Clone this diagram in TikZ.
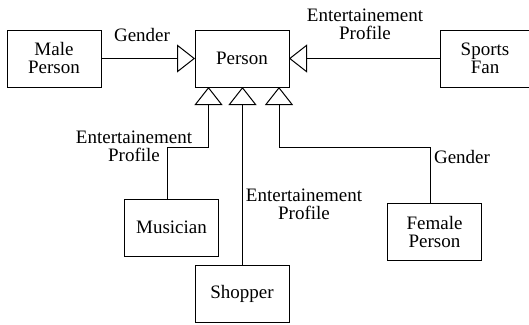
\documentclass[tikz,border=0pt]{standalone}
\usepackage{fontspec}
\setmainfont{Liberation Serif}
\newfontfamily\diagfont{Liberation Serif}
\usetikzlibrary{arrows.meta,calc}
\begin{document}
\begin{tikzpicture}[x=1pt,y=-1pt,
  box/.style={draw, line width=1pt, minimum width=94pt, minimum height=57pt, inner sep=0pt, outer sep=0pt, align=center, font=\diagfont\fontsize{19}{18}\selectfont},
  lbl/.style={align=center, inner sep=0pt, font=\diagfont\fontsize{19}{18}\selectfont},
  inh/.style={line width=1pt, -{Triangle[open, length=18pt, width=28pt, line width=1pt]}}]
\useasboundingbox (0,0) rectangle (529,324);
\node[box] (male) at (54,58.5) {Male\\Person};
\node[box] (person) at (242,58.5) {Person};
\node[box, minimum width=90pt] (sports) at (485,58.5) {Sports\\Fan};
\node[box] (musician) at (171.5,227.5) {Musician};
\node[box] (shopper) at (242,293.5) {Shopper};
\node[box] (female) at (434.5,232) {Female\\Person};
\node[lbl] (g1) at (142,35) {Gender};
\node[lbl] (ep1) at (365,24) {Entertainement\\Profile};
\node[lbl] (ep2) at (134,146) {Entertainement\\Profile};
\node[lbl] (ep3) at (304,204) {Entertainement\\Profile};
\node[lbl] (g2) at (462,157) {Gender};
\draw[inh] (male) -- (person);
\draw[inh] (sports) -- (person);
\draw[inh] ($(musician.north)+(-4.5,0)$) |- ($(person.south)+(-33.5,60)$) -- ($(person.south)+(-33.5,0)$);
\draw[inh] ($(shopper.north)+(0.5,0)$) -- ($(person.south)+(0.5,0)$);
\draw[inh] ($(female.north)+(-4.5,0)$) |- ($(person.south)+(37,60)$) -- ($(person.south)+(37,0)$);
\end{tikzpicture}
\end{document}
